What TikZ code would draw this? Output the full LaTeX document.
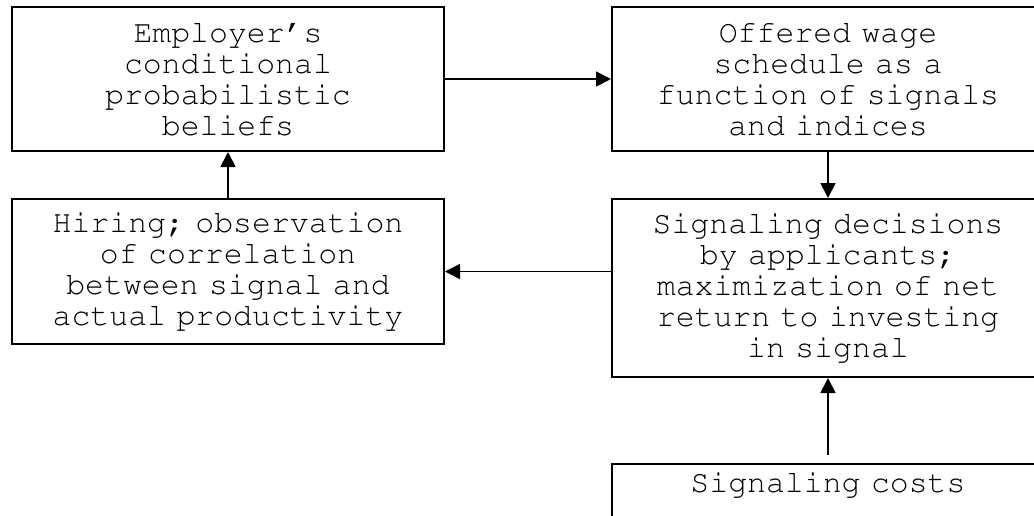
\documentclass[tikz,border=0pt]{standalone}
\usepackage[T1]{fontenc}
\usetikzlibrary{arrows.meta}
% Courier for all box texts
\newcommand\boxfont{\fontencoding{T1}\fontfamily{pcr}\fontsize{31.5pt}{31pt}\selectfont\frenchspacing}
\tikzset{
  stagebox/.style={draw, line width=2pt, minimum width=432pt, inner sep=8pt,
    text width=416pt, align=center, font=\boxfont},
  flow/.style={line width=1.8pt, -{Triangle[length=15pt,width=15pt]}}
}
\begin{document}
\begin{tikzpicture}[x=1pt,y=-1pt]
  \useasboundingbox (0,0) rectangle (1034,515);
  \clip (0,0) rectangle (1034,515);
  \fill[white] (0,0) rectangle (1034,515);

  % the four stages of the loop
  \node[stagebox, minimum height=144pt] (beliefs) at (228,79)
    {Employer's\\conditional\\probabilistic\\beliefs};
  \node[stagebox, minimum height=144pt] (wage) at (828,79)
    {Offered wage\\schedule as a\\function of signals\\and indices};
  \node[stagebox, minimum height=145pt] (hiring) at (228,271.5)
    {Hiring; observation\\of correlation\\between signal and\\actual productivity};
  \node[stagebox, minimum height=178pt] (decisions) at (828,288)
    {Signaling decisions\\by applicants;\\maximization of net\\return to investing\\in signal};

  % exogenous input below
  \node[stagebox, anchor=north, text depth=60pt] (costs) at (828,463)
    {Signaling costs};

  % connectors
  \draw[flow] (beliefs) -- (wage);
  \draw[flow] (wage) -- (decisions);
  \draw[flow] (decisions.west |- hiring.east) -- (hiring.east);
  \draw[flow] (hiring) -- (beliefs);
  \draw[flow, shorten <=8pt] (costs) -- (decisions);
\end{tikzpicture}
\end{document}
